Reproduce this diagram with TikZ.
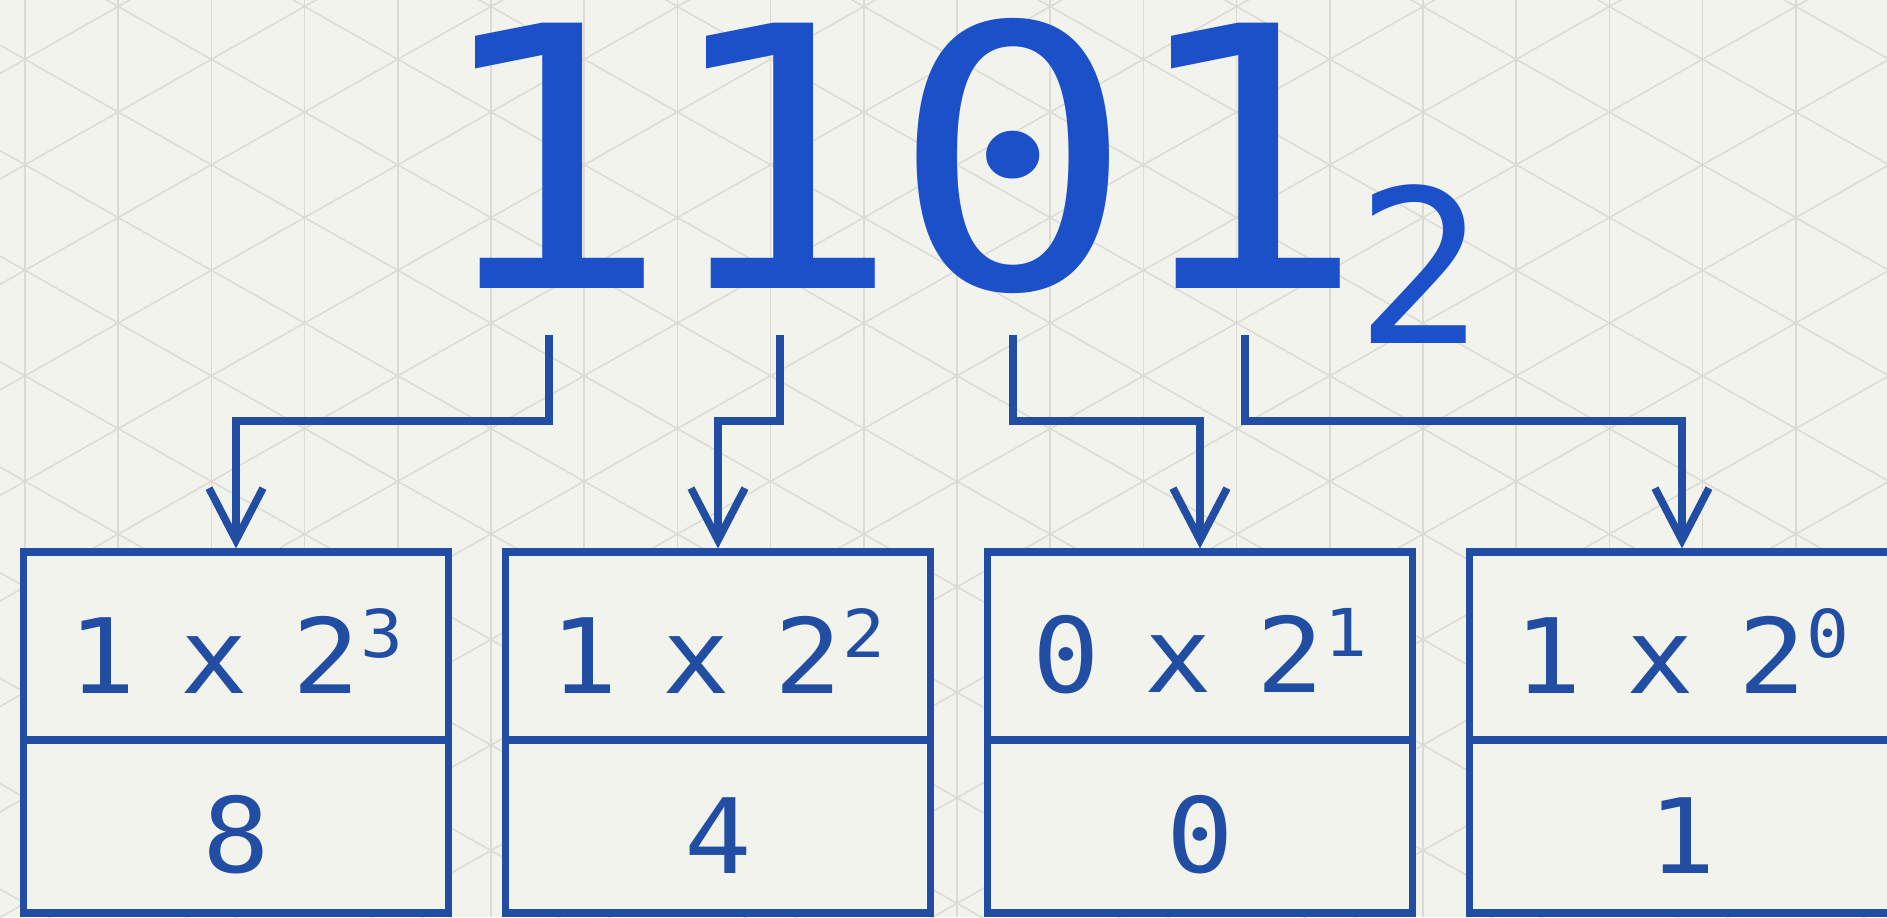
\documentclass[tikz,border=0pt]{standalone}
\usepackage{fontspec}
\usetikzlibrary{arrows.meta}
\newfontfamily\digitfont{DejaVu Sans Mono}[FakeStretch=1.12]
\newfontfamily\radixfont{DejaVu Sans Mono}
\newfontfamily\cellfont{DejaVu Sans Mono}[FakeStretch=1.08,WordSpace=0.66]
\definecolor{paper}{RGB}{243,243,238}
\definecolor{gridgray}{RGB}{219,219,211}
\definecolor{digitblue}{RGB}{27,80,200}
\definecolor{lineblue}{RGB}{33,77,162}
\newcommand{\powr}[1]{\raisebox{18pt}{\fontsize{33}{33}\selectfont #1}}
\tikzset{
  paper grid/.style={gridgray,line width=0.75pt},
  big digit/.style={anchor=base,inner xsep=-20pt,inner ysep=0pt,text=digitblue,font=\digitfont\fontsize{182}{182}\selectfont},
  base mark/.style={anchor=base,inner xsep=-8pt,inner ysep=0pt,text=digitblue,font=\radixfont\fontsize{107}{107}\selectfont},
  bit arrow/.style={lineblue,line width=3.8pt,-{Straight Barb[length=26pt,width=27pt]}},
  pow cell/.style={draw=lineblue,line width=3.6pt,fill=paper,minimum width=212.5pt,minimum height=94pt,inner sep=0pt,text height=47pt,text=lineblue,font=\cellfont\fontsize{52}{52}\selectfont},
  val cell/.style={pow cell,minimum height=86.5pt,text height=47pt},
}

\begin{document}
\begin{tikzpicture}[x=0.5pt,y=0.5pt]
  \useasboundingbox (0,0) rectangle (1887,-917);
  \clip (0,0) rectangle (1887,-917);
  \fill[paper] (0,0) rectangle (1887,-917);
  % isometric paper
  \foreach \k in {0,...,20}
    \draw[paper grid] ({25+93.2*\k},0) -- ++(0,-917);
  \foreach \k in {-12,...,10}
    \draw[paper grid] (-175,{53.9-105.5*\k}) -- (2125,{-1247.9-105.5*\k});
  \foreach \k in {-1,...,19}
    \draw[paper grid] (-175,{-172.5-105.5*\k}) -- (2125,{1129.3-105.5*\k});

  % the number
  \node[big digit] (d1) at (549,-288) {1};
  \node[big digit] (d2) at (780,-288) {1};
  \node[big digit] (d3) at (1013,-288) {0};
  \node[big digit] (d4) at (1245,-288) {1};
  \node[base mark] (radix) at (1420,-343) {2};

  % place values
  \node[pow cell] (t1) at (236,-646) {1 x 2\powr{3}};
  \node[val cell] (v1) at (236,-826.5) {8};
  \node[pow cell] (t2) at (718,-646) {1 x 2\powr{2}};
  \node[val cell] (v2) at (718,-826.5) {4};
  \node[pow cell] (t3) at (1200,-646) {0 x 2\powr{1}};
  \node[val cell] (v3) at (1200,-826.5) {0};
  \node[pow cell] (t4) at (1682,-646) {1 x 2\powr{0}};
  \node[val cell] (v4) at (1682,-826.5) {1};

  \draw[bit arrow] ([yshift=-23.5pt]d1.base) -- ++(0,-86) -| (t1.north);
  \draw[bit arrow] ([yshift=-23.5pt]d2.base) -- ++(0,-86) -| (t2.north);
  \draw[bit arrow] ([yshift=-23.5pt]d3.base) -- ++(0,-86) -| (t3.north);
  \draw[bit arrow] ([yshift=-23.5pt]d4.base) -- ++(0,-86) -| (t4.north);
\end{tikzpicture}
\end{document}
